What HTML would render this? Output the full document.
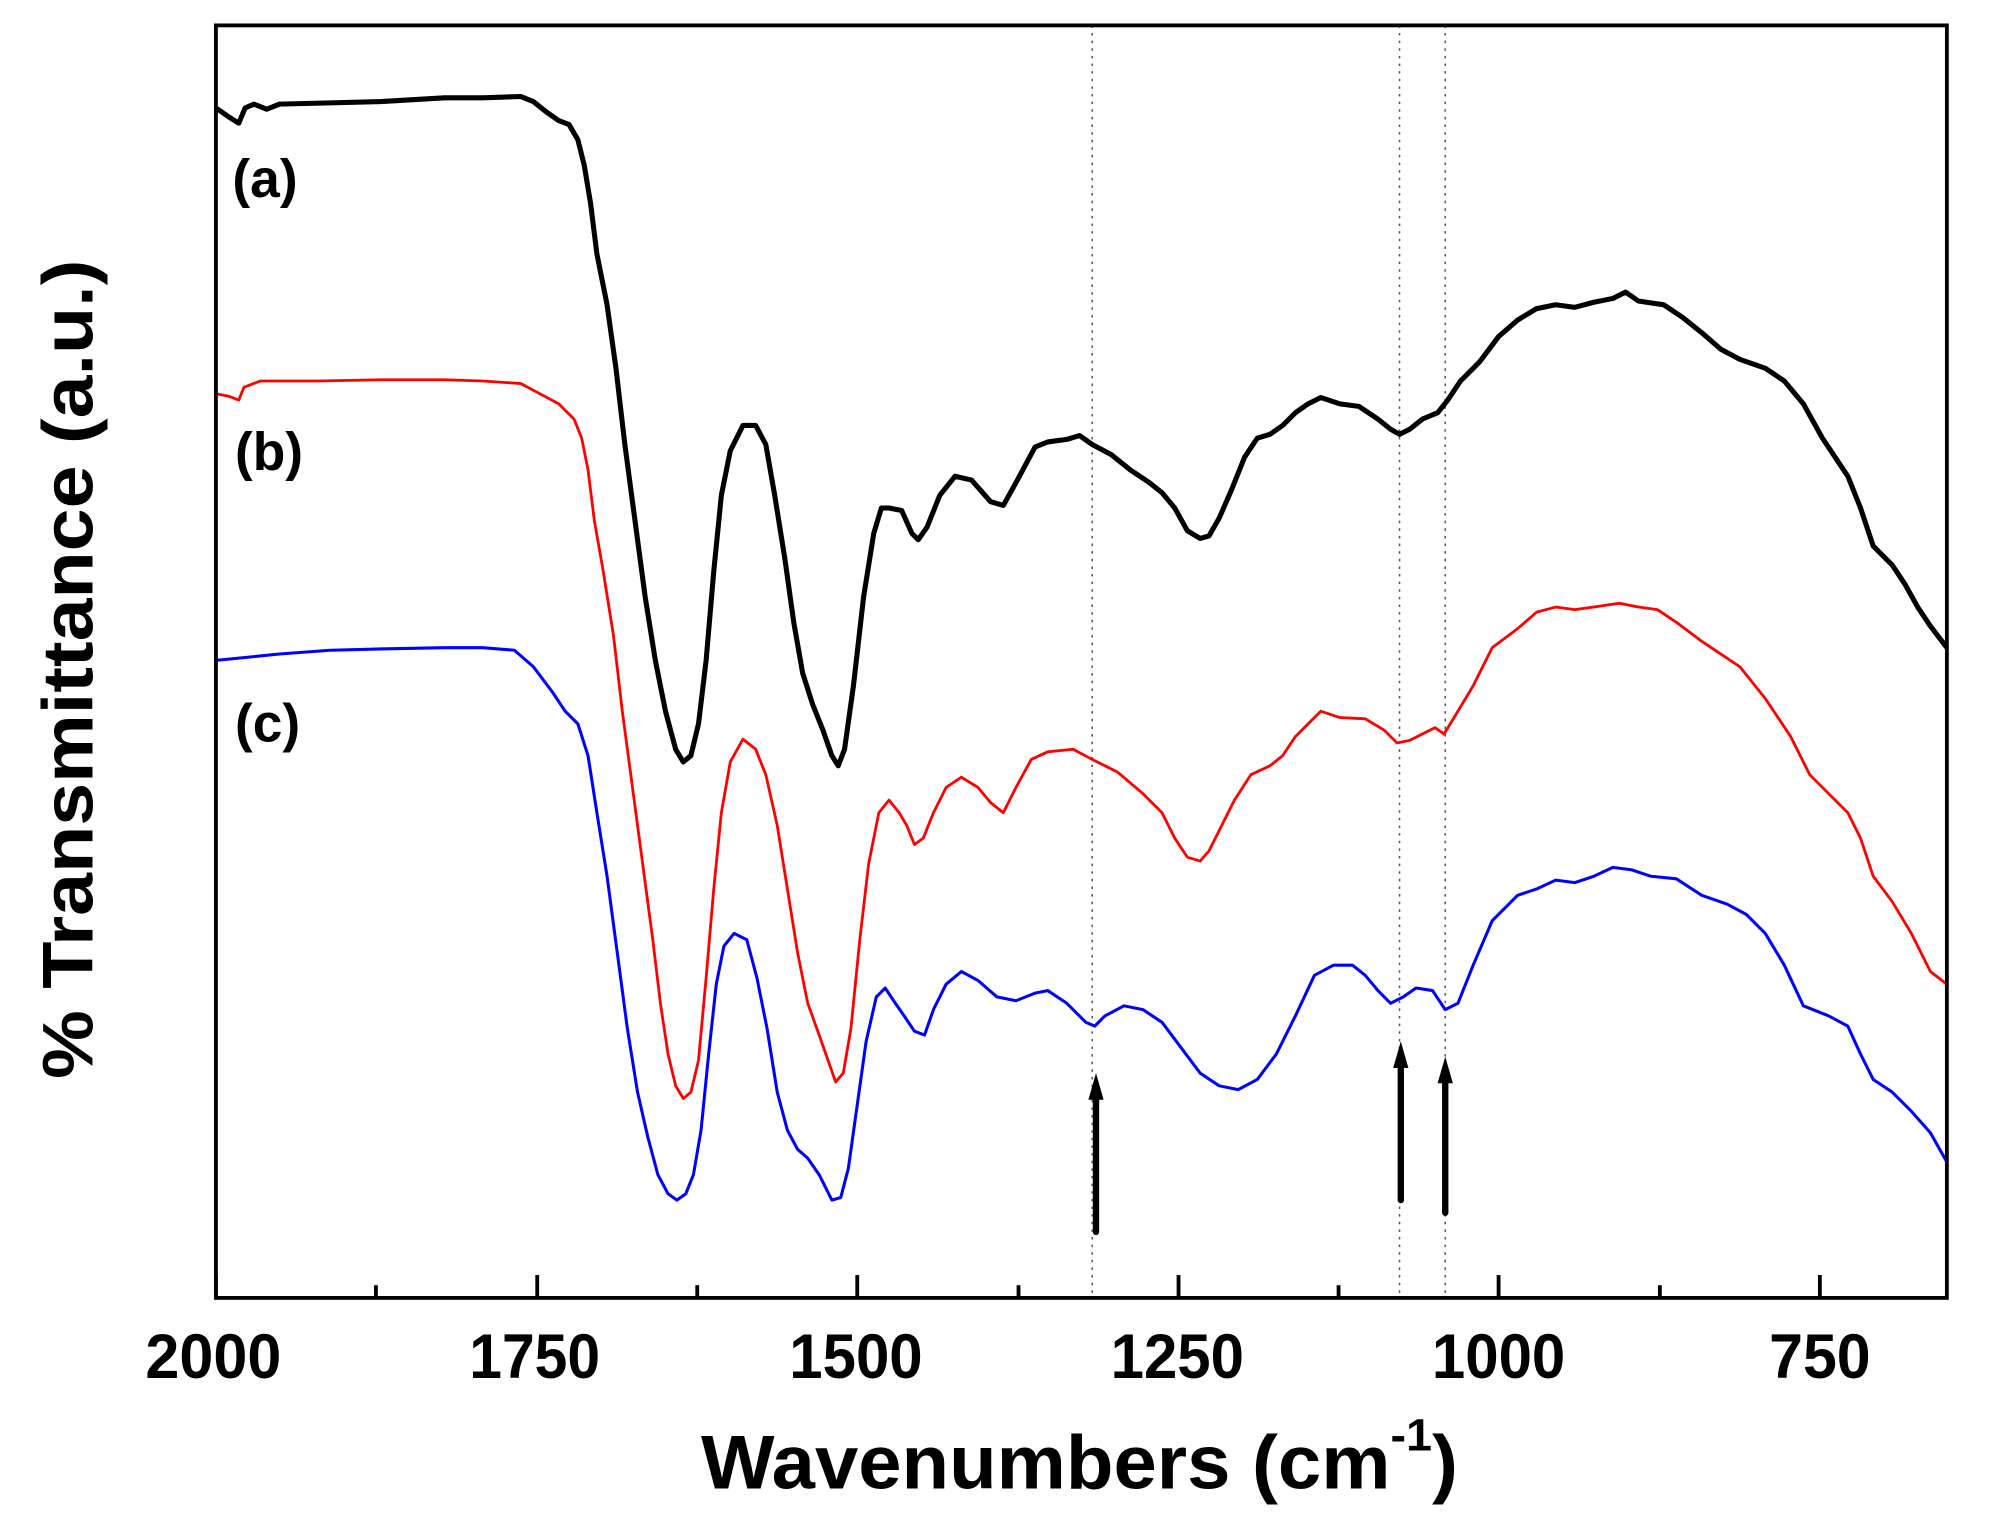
<!DOCTYPE html>
<html><head><meta charset="utf-8"><style>html,body{margin:0;padding:0;background:#fff}svg{display:block}</style></head>
<body>
<svg width="1993" height="1535" viewBox="0 0 1569.3 1208.7" xmlns="http://www.w3.org/2000/svg" font-family="Liberation Sans, Arial, sans-serif" font-weight="bold">
<rect width="1569.3" height="1208.7" fill="#fff"/>
<g stroke="#555" stroke-width="1.2" stroke-dasharray="2,4">
<line x1="860" y1="20" x2="860" y2="1022"/>
<line x1="1102" y1="20" x2="1102" y2="1022"/>
<line x1="1138" y1="20" x2="1138" y2="1022"/>
</g>
<polyline fill="none" stroke="#000" stroke-width="4" stroke-linejoin="round" points="170,85 180,92 188,97 193,85 200,82 210,86 220,82 260,81 300,80 350,77 380,77 410,76 420,80 430,88 440,95 448,98 455,110 460,130 465,160 470,200 478,240 485,290 492,350 500,410 508,470 516,520 524,560 532,590 538,600 544,595 550,570 556,520 562,450 568,390 575,355 585,335 595,335 603,350 610,390 618,440 625,490 632,530 640,555 648,575 655,595 660,603 665,590 672,540 680,470 688,420 694,400 700,400 710,402 718,420 723,425 730,415 740,390 752,375 765,378 780,395 790,398 800,380 815,352 825,348 840,346 850,343 860,350 875,358 890,370 905,380 915,388 925,400 935,418 945,424 952,422 960,408 970,385 980,360 990,345 1000,342 1010,335 1020,325 1030,318 1040,313 1055,318 1070,320 1085,330 1095,338 1102,342 1110,338 1120,330 1132,325 1140,315 1150,300 1165,285 1180,265 1195,252 1210,243 1225,240 1240,242 1255,238 1270,235 1280,230 1290,237 1310,240 1325,250 1340,262 1355,275 1370,283 1390,290 1405,300 1420,318 1435,345 1445,360 1455,375 1465,400 1475,430 1490,445 1500,460 1510,478 1520,493 1533,510"/>
<polyline fill="none" stroke="#f00" stroke-width="2.2" stroke-linejoin="round" points="170,310 180,312 188,315 192,305 205,300 250,300 300,299 350,299 380,300 410,302 425,310 440,318 452,330 458,345 463,370 468,410 475,450 483,500 490,560 498,620 506,680 514,740 520,790 526,830 532,855 538,865 544,860 550,835 556,770 562,700 568,640 575,600 585,582 595,590 603,610 612,650 620,700 628,750 636,790 645,815 652,835 658,852 664,845 670,810 677,740 684,680 692,640 700,630 708,640 714,650 720,665 727,660 735,640 745,620 757,612 770,620 780,632 790,640 800,620 812,598 825,592 845,590 860,598 880,608 900,625 915,640 925,660 935,675 945,678 952,670 962,650 972,630 985,610 1000,603 1010,595 1020,580 1030,570 1040,560 1055,565 1075,566 1090,575 1100,585 1110,583 1120,578 1130,573 1137,578 1145,565 1160,540 1175,510 1195,495 1210,482 1225,478 1240,480 1255,478 1275,475 1290,478 1305,480 1320,490 1340,505 1355,515 1370,525 1390,550 1410,580 1425,610 1440,625 1455,640 1465,660 1475,690 1490,710 1505,735 1520,765 1533,775"/>
<polyline fill="none" stroke="#00f" stroke-width="2.4" stroke-linejoin="round" points="170,520 190,518 220,515 260,512 300,511 350,510 380,510 405,512 420,525 435,545 445,560 455,570 463,595 470,640 478,690 486,750 494,810 502,860 510,895 518,925 526,940 533,945 540,940 546,925 552,890 558,830 564,775 570,745 578,735 588,740 596,770 604,810 612,860 620,890 628,905 636,912 645,925 655,945 662,943 668,920 675,870 682,820 690,785 697,778 705,790 712,800 720,812 728,815 735,795 745,775 757,765 770,772 785,785 800,788 815,782 825,780 840,790 855,805 862,808 870,800 885,792 900,795 915,805 930,825 945,845 960,855 975,858 990,850 1005,830 1020,800 1035,768 1050,760 1065,760 1075,768 1085,780 1095,790 1105,785 1115,778 1128,780 1138,795 1148,790 1160,760 1175,725 1195,705 1210,700 1225,693 1240,695 1255,690 1270,683 1285,685 1300,690 1320,692 1340,705 1360,712 1375,720 1390,735 1405,760 1420,792 1440,800 1455,808 1465,830 1475,850 1490,860 1505,875 1520,892 1533,915"/>
<g stroke="#000" stroke-width="5" stroke-linecap="round">
<line x1="863" y1="970" x2="863" y2="862"/>
<line x1="1103" y1="945" x2="1103" y2="835"/>
<line x1="1138" y1="955" x2="1138" y2="846"/>
</g>
<g fill="#000">
<polygon points="863,845 857,866 869,866"/>
<polygon points="1103,820 1097,841 1109,841"/>
<polygon points="1138,832 1132,853 1144,853"/>
</g>
<rect x="170" y="20" width="1363" height="1002" fill="none" stroke="#000" stroke-width="3"/>
<g stroke="#000" stroke-width="3">
<line x1="170" y1="1022" x2="170" y2="1004"/>
<line x1="296" y1="1022" x2="296" y2="1012"/>
<line x1="423" y1="1022" x2="423" y2="1004"/>
<line x1="549" y1="1022" x2="549" y2="1012"/>
<line x1="675" y1="1022" x2="675" y2="1004"/>
<line x1="802" y1="1022" x2="802" y2="1012"/>
<line x1="928" y1="1022" x2="928" y2="1004"/>
<line x1="1054" y1="1022" x2="1054" y2="1012"/>
<line x1="1180" y1="1022" x2="1180" y2="1004"/>
<line x1="1307" y1="1022" x2="1307" y2="1012"/>
<line x1="1433" y1="1022" x2="1433" y2="1004"/>
</g>
<g font-size="50" text-anchor="middle">
<text x="168" y="1085" textLength="107" lengthAdjust="spacingAndGlyphs">2000</text>
<text x="421" y="1085" textLength="103" lengthAdjust="spacingAndGlyphs">1750</text>
<text x="674" y="1085" textLength="105" lengthAdjust="spacingAndGlyphs">1500</text>
<text x="927" y="1085" textLength="105" lengthAdjust="spacingAndGlyphs">1250</text>
<text x="1180" y="1085" textLength="105" lengthAdjust="spacingAndGlyphs">1000</text>
<text x="1433" y="1085" textLength="80" lengthAdjust="spacingAndGlyphs">750</text>
</g>
<text x="552" y="1172" font-size="60" textLength="596" lengthAdjust="spacingAndGlyphs">Wavenumbers (cm<tspan font-size="36" dy="-30">-1</tspan><tspan dy="30">)</tspan></text>
<text transform="translate(73,527) rotate(-90)" text-anchor="middle" font-size="56" textLength="645" lengthAdjust="spacingAndGlyphs">% Transmittance (a.u.)</text>
<g font-size="42">
<text x="183" y="155">(a)</text>
<text x="185" y="370">(b)</text>
<text x="185" y="584">(c)</text>
</g>
</svg>
</body></html>
